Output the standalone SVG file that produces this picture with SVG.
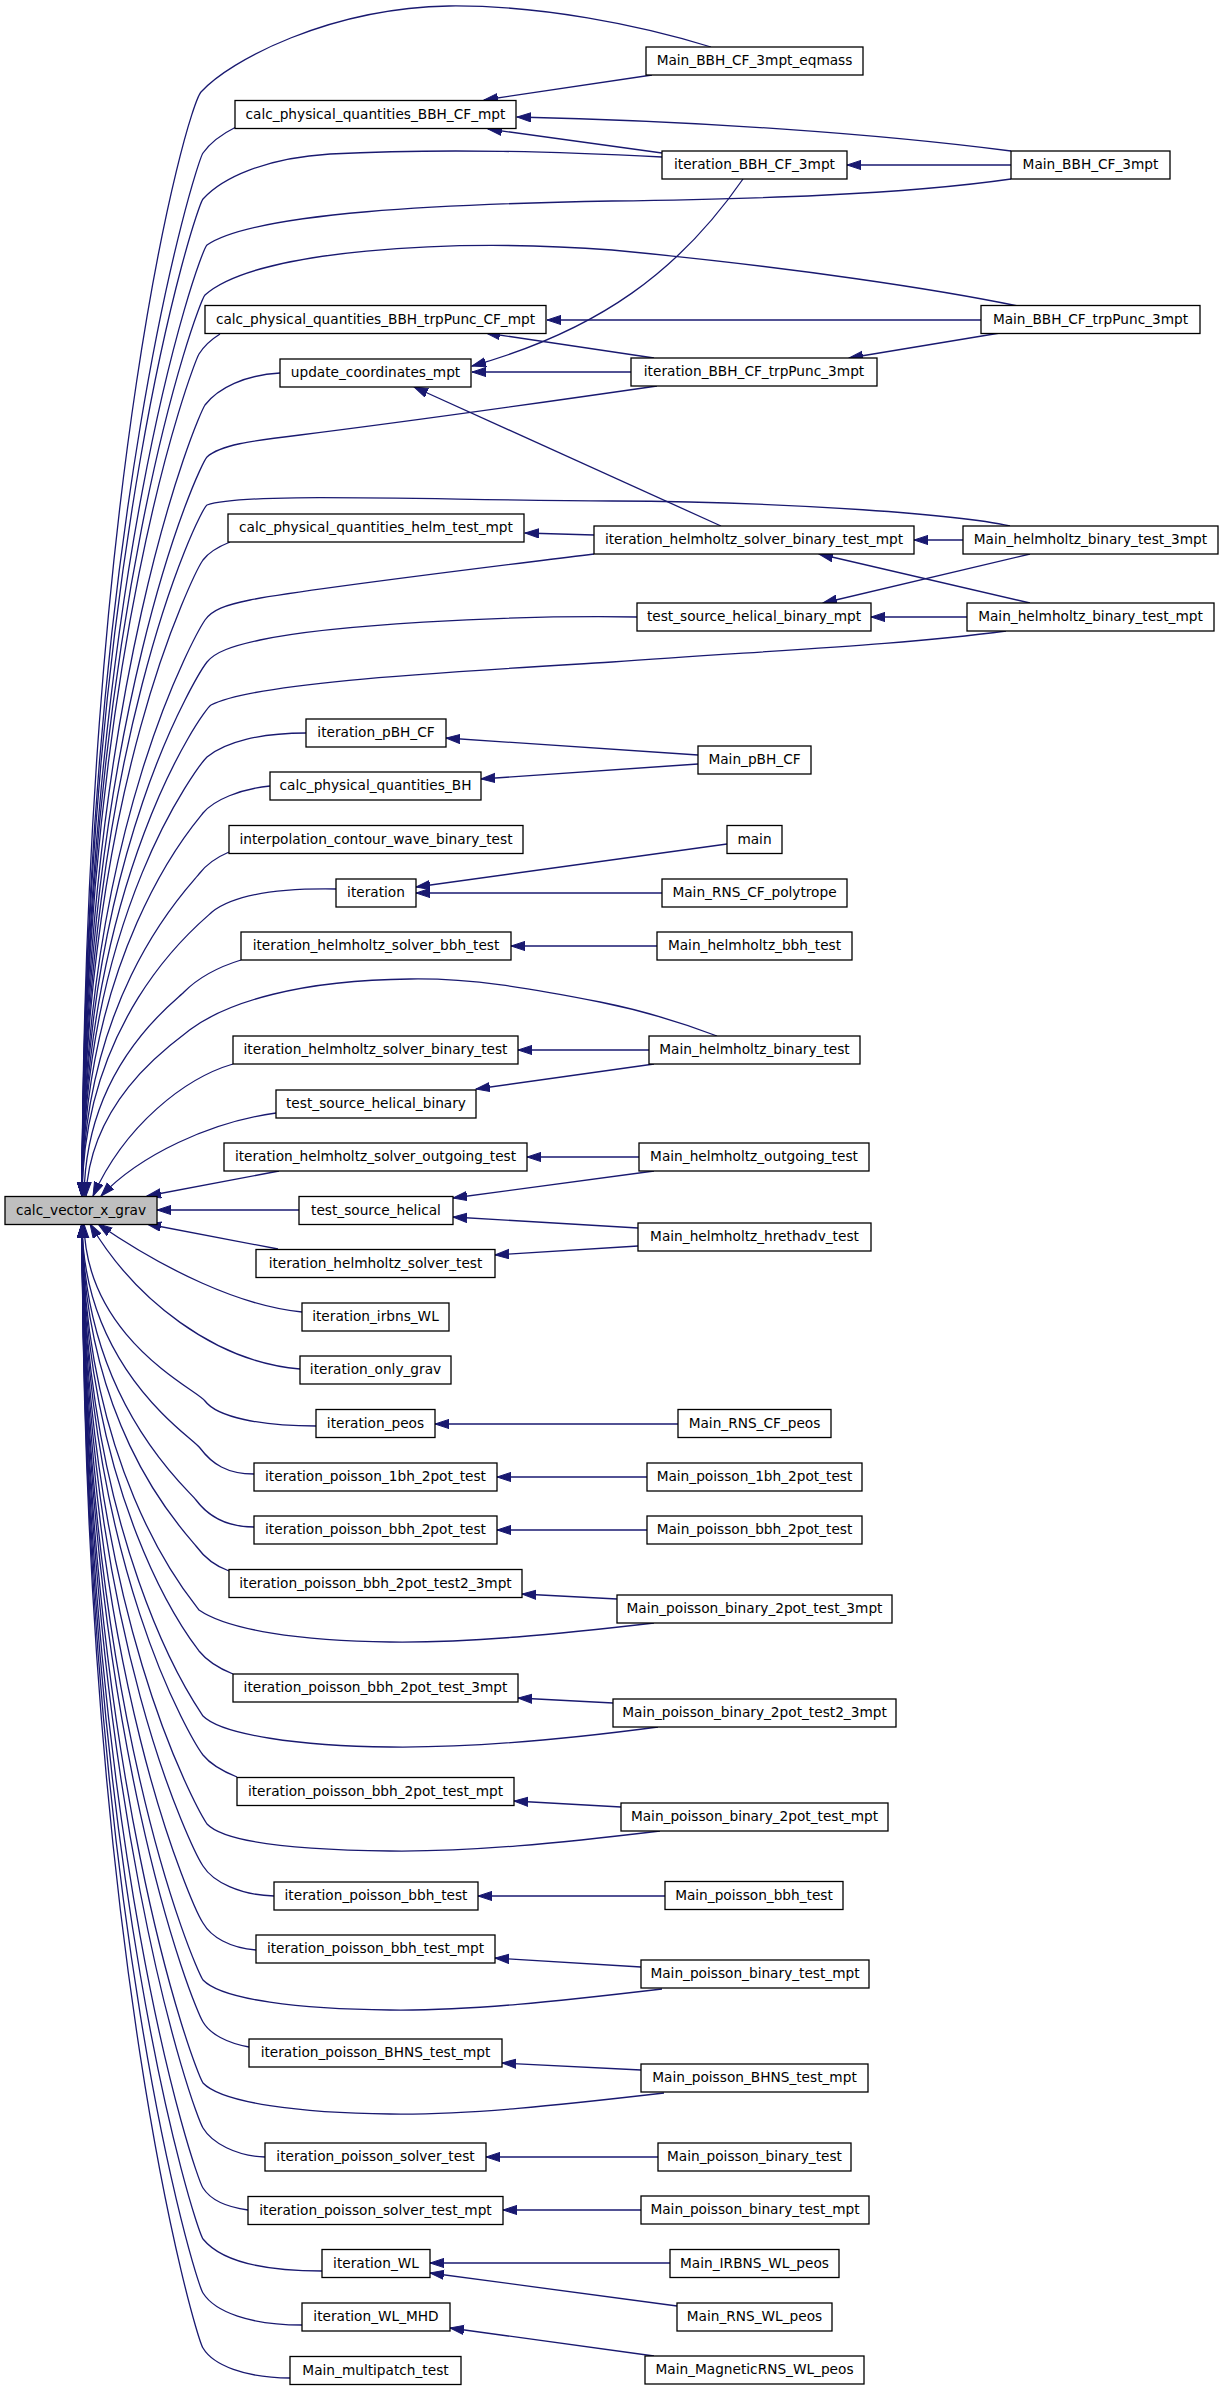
<svg xmlns="http://www.w3.org/2000/svg" width="1224" height="2390" viewBox="0 0 1224 2390">
<defs>
<marker id="a" markerUnits="userSpaceOnUse" markerWidth="16" markerHeight="12" refX="14" refY="5" orient="auto">
<path d="M0,0.4 L14,5 L0,9.6 z" fill="#191970" stroke="#191970" stroke-width="1"/>
</marker>
<style>
.n rect{fill:#fff;stroke:#000;stroke-width:1.3}
.n text{font-family:"DejaVu Sans","Liberation Sans",sans-serif;font-size:13.7px;text-anchor:middle;fill:#000}
#c rect{fill:#bfbfbf}
.e path{fill:none;stroke:#191970;stroke-width:1.3;marker-end:url(#a)}
</style>
</defs>
<rect width="1224" height="2390" fill="#fff"/>
<g class="e" id="edges">
<!-- from C up -->
<path d="M711,47 C640,25 540,5 449,6 C330,8 230,60 201,92 C186,110 84,478 82,1196"/>
<path d="M236,127 C222,134 210,143 203,153 C196,163 84,518 82,1196"/>
<path d="M662,157 C560,152 450,148 330,154 C265,158 222,178 203,199 C196,207 84,548 82,1196"/>
<path d="M1011,179 C900,195 750,199 612,201 C450,204 255,212 207,245 C199,252 84,578 82,1196"/>
<path d="M1018,306 C940,290 800,268 612,250 C450,238 255,250 205,295 C198,302 84,610 82,1196"/>
<path d="M220,334 C212,339 204,346 199,354 C193,364 84,649 82,1196"/>
<path d="M280,373 C245,375 218,388 205,405 C198,415 84,682 82,1196"/>
<path d="M657,386 C560,400 420,420 300,435 C250,441 220,445 207,457 C199,465 84,716 82,1196"/>
<path d="M1010,526 C960,515 800,502 612,501 C420,500 245,492 207,505 C199,510 84,747 82,1196"/>
<path d="M230,542 C220,546 209,552 203,560 C196,570 84,783 82,1196"/>
<path d="M594,554 C450,572 300,590 250,600 C225,605 212,610 205,620 C199,629 84,822 82,1196"/>
<path d="M637,617 C500,615 330,625 260,640 C232,646 215,652 207,662 C200,671 84,849 82,1196"/>
<path d="M1006,631 C900,645 780,650 612,662 C450,672 255,682 211,705 C203,710 84,877 82,1196"/>
<path d="M306,733 C260,733 225,742 207,757 C199,765 84,911 82,1196"/>
<path d="M270,786 C240,789 214,800 203,813 C196,822 84,947 82,1196"/>
<path d="M229,852 C215,858 205,866 199,874 C193,883 84,987 82,1196"/>
<path d="M336,889 C275,888 232,896 212,912 C204,920 84,1011 82,1196"/>
<path d="M241,960 C215,968 196,980 184,992 C176,1001 86,1063 84,1196"/>
<path d="M717,1036 C680,1022 640,1010 600,1002 C530,988 470,978 410,979 C300,980 228,1002 191,1029 C170,1045 90,1100 86,1196"/>
<path d="M233,1064 C185,1078 125,1125 93,1196"/>
<path d="M276,1113 C210,1122 140,1155 101,1196"/>
<path d="M279,1171 L147,1196"/>
<path d="M299,1210 L157,1210"/>
<!-- from C down -->
<path d="M278,1249 L147,1224"/>
<path d="M302,1312 C240,1306 165,1270 98,1224"/>
<path d="M300,1369 C215,1362 135,1300 90,1224"/>
<path d="M316,1426 C260,1426 217,1417 205,1401 C196,1389 86,1339 84,1224"/>
<path d="M254,1474 C227,1474 212,1464 200,1448 C191,1436 84,1370 82,1224"/>
<path d="M254,1527 C225,1527 208,1516 196,1500 C187,1488 84,1403 82,1224"/>
<path d="M229,1571 C215,1566 204,1557 196,1546 C187,1534 84,1433 82,1224"/>
<path d="M654,1623 C560,1634 470,1643 390,1642 C300,1641 228,1630 199,1610 C190,1598 84,1475 82,1224"/>
<path d="M233,1674 C218,1668 207,1661 199,1651 C190,1639 84,1502 82,1224"/>
<path d="M658,1727 C560,1740 470,1748 390,1747 C300,1746 222,1735 203,1716 C195,1704 84,1544 82,1224"/>
<path d="M237,1777 C222,1771 211,1765 203,1755 C194,1743 84,1569 82,1224"/>
<path d="M660,1831 C560,1843 470,1852 390,1851 C300,1850 225,1843 207,1824 C199,1812 84,1614 82,1224"/>
<path d="M274,1896 C240,1895 213,1882 203,1866 C195,1854 84,1641 82,1224"/>
<path d="M256,1950 C230,1948 211,1937 203,1923 C195,1911 84,1678 82,1224"/>
<path d="M662,1989 C560,2001 470,2011 390,2010 C300,2009 222,2000 203,1980 C195,1968 84,1715 82,1224"/>
<path d="M249,2047 C227,2043 210,2034 203,2022 C195,2010 84,1743 82,1224"/>
<path d="M664,2093 C560,2105 470,2115 390,2114 C300,2113 222,2103 203,2083 C195,2071 84,1782 82,1224"/>
<path d="M265,2157 C236,2156 212,2143 203,2128 C195,2116 84,1812 82,1224"/>
<path d="M248,2210 C226,2207 210,2199 203,2188 C195,2176 84,1851 82,1224"/>
<path d="M322,2271 C260,2271 220,2260 203,2239 C195,2227 84,1884 82,1224"/>
<path d="M302,2325 C250,2325 215,2312 203,2293 C195,2281 84,1919 82,1224"/>
<path d="M290,2378 C245,2378 213,2365 203,2348 C195,2336 84,1955 82,1224"/>
<!-- between outer ranks -->
<path d="M652,75 L484,100"/>
<path d="M1011,151 C880,134 700,121 517,117"/>
<path d="M662,153 L488,129"/>
<path d="M1011,165 L847,165"/>
<path d="M743,179 C680,270 600,330 472,366"/>
<path d="M631,372 L472,372"/>
<path d="M721,526 L414,387"/>
<path d="M981,320 L547,320"/>
<path d="M654,358 L486,333"/>
<path d="M1000,333 L849,358"/>
<path d="M594,535 L525,533"/>
<path d="M963,540 L914,540"/>
<path d="M1030,603 L819,554"/>
<path d="M1030,554 L823,603"/>
<path d="M967,617 L871,617"/>
<path d="M698,755 L446,738"/>
<path d="M698,764 L481,779"/>
<path d="M727,844 L416,887"/>
<path d="M662,893 L416,893"/>
<path d="M657,946 L511,946"/>
<path d="M649,1050 L518,1050"/>
<path d="M654,1064 L476,1089"/>
<path d="M639,1157 L527,1157"/>
<path d="M654,1171 L453,1198"/>
<path d="M638,1228 L453,1217"/>
<path d="M638,1246 L495,1255"/>
<path d="M678,1424 L435,1424"/>
<path d="M647,1477 L497,1477"/>
<path d="M647,1530 L497,1530"/>
<path d="M617,1599 L522,1594"/>
<path d="M613,1703 L518,1698"/>
<path d="M621,1807 L514,1801"/>
<path d="M665,1896 L478,1896"/>
<path d="M641,1967 L495,1958"/>
<path d="M641,2070 L502,2063"/>
<path d="M658,2157 L486,2157"/>
<path d="M641,2210 L503,2210"/>
<path d="M670,2263 L430,2263"/>
<path d="M677,2306 L430,2273"/>
<path d="M654,2356 L450,2328"/>
</g>
<g class="n" id="c"><rect x="5" y="1196.5" width="152" height="28"/><text x="81" y="1214.5">calc_vector_x_grav</text></g>
<g class="n" id="n1"><rect x="235" y="100.5" width="281" height="28"/><text x="375.5" y="118.5">calc_physical_quantities_BBH_CF_mpt</text></g>
<g class="n" id="n2"><rect x="205" y="305.5" width="341" height="28"/><text x="375.5" y="323.5">calc_physical_quantities_BBH_trpPunc_CF_mpt</text></g>
<g class="n" id="n3"><rect x="280" y="359" width="191" height="28"/><text x="375.5" y="377">update_coordinates_mpt</text></g>
<g class="n" id="n4"><rect x="228" y="514" width="296" height="28"/><text x="376" y="532">calc_physical_quantities_helm_test_mpt</text></g>
<g class="n" id="n5"><rect x="306" y="719" width="140" height="28"/><text x="376" y="737">iteration_pBH_CF</text></g>
<g class="n" id="n6"><rect x="270" y="772" width="211" height="28"/><text x="375.5" y="790">calc_physical_quantities_BH</text></g>
<g class="n" id="n7"><rect x="229" y="825.5" width="294" height="28"/><text x="376" y="843.5">interpolation_contour_wave_binary_test</text></g>
<g class="n" id="n8"><rect x="336" y="879" width="80" height="28"/><text x="376" y="897">iteration</text></g>
<g class="n" id="n9"><rect x="241" y="932" width="270" height="28"/><text x="376" y="950">iteration_helmholtz_solver_bbh_test</text></g>
<g class="n" id="n10"><rect x="233" y="1036" width="285" height="28"/><text x="375.5" y="1054">iteration_helmholtz_solver_binary_test</text></g>
<g class="n" id="n11"><rect x="276" y="1090" width="200" height="28"/><text x="376" y="1108">test_source_helical_binary</text></g>
<g class="n" id="n12"><rect x="224" y="1143" width="303" height="28"/><text x="375.5" y="1161">iteration_helmholtz_solver_outgoing_test</text></g>
<g class="n" id="n13"><rect x="299" y="1196.5" width="154" height="28"/><text x="376" y="1214.5">test_source_helical</text></g>
<g class="n" id="n14"><rect x="256" y="1249.5" width="239" height="28"/><text x="375.5" y="1267.5">iteration_helmholtz_solver_test</text></g>
<g class="n" id="n15"><rect x="302" y="1303" width="147" height="28"/><text x="375.5" y="1321">iteration_irbns_WL</text></g>
<g class="n" id="n16"><rect x="300" y="1356" width="151" height="28"/><text x="375.5" y="1374">iteration_only_grav</text></g>
<g class="n" id="n17"><rect x="316" y="1409.5" width="119" height="28"/><text x="375.5" y="1427.5">iteration_peos</text></g>
<g class="n" id="n18"><rect x="254" y="1463" width="243" height="28"/><text x="375.5" y="1481">iteration_poisson_1bh_2pot_test</text></g>
<g class="n" id="n19"><rect x="254" y="1516" width="243" height="28"/><text x="375.5" y="1534">iteration_poisson_bbh_2pot_test</text></g>
<g class="n" id="n20"><rect x="229" y="1569.5" width="293" height="28"/><text x="375.5" y="1587.5">iteration_poisson_bbh_2pot_test2_3mpt</text></g>
<g class="n" id="n21"><rect x="233" y="1674" width="285" height="28"/><text x="375.5" y="1692">iteration_poisson_bbh_2pot_test_3mpt</text></g>
<g class="n" id="n22"><rect x="237" y="1777.5" width="277" height="28"/><text x="375.5" y="1795.5">iteration_poisson_bbh_2pot_test_mpt</text></g>
<g class="n" id="n23"><rect x="274" y="1882" width="204" height="28"/><text x="376" y="1900">iteration_poisson_bbh_test</text></g>
<g class="n" id="n24"><rect x="256" y="1935" width="239" height="28"/><text x="375.5" y="1953">iteration_poisson_bbh_test_mpt</text></g>
<g class="n" id="n25"><rect x="249" y="2039" width="253" height="28"/><text x="375.5" y="2057">iteration_poisson_BHNS_test_mpt</text></g>
<g class="n" id="n26"><rect x="265" y="2143" width="221" height="28"/><text x="375.5" y="2161">iteration_poisson_solver_test</text></g>
<g class="n" id="n27"><rect x="248" y="2196.5" width="255" height="28"/><text x="375.5" y="2214.5">iteration_poisson_solver_test_mpt</text></g>
<g class="n" id="n28"><rect x="322" y="2249.5" width="108" height="28"/><text x="376" y="2267.5">iteration_WL</text></g>
<g class="n" id="n29"><rect x="302" y="2303" width="148" height="28"/><text x="376" y="2321">iteration_WL_MHD</text></g>
<g class="n" id="n30"><rect x="290" y="2356.5" width="171" height="28"/><text x="375.5" y="2374.5">Main_multipatch_test</text></g>
<g class="n" id="m1"><rect x="646" y="47" width="217" height="28"/><text x="754.5" y="65">Main_BBH_CF_3mpt_eqmass</text></g>
<g class="n" id="m2"><rect x="662" y="151" width="185" height="28"/><text x="754.5" y="169">iteration_BBH_CF_3mpt</text></g>
<g class="n" id="m3"><rect x="631" y="358" width="246" height="28"/><text x="754" y="376">iteration_BBH_CF_trpPunc_3mpt</text></g>
<g class="n" id="m4"><rect x="594" y="526" width="320" height="28"/><text x="754" y="544">iteration_helmholtz_solver_binary_test_mpt</text></g>
<g class="n" id="m5"><rect x="637" y="603" width="234" height="28"/><text x="754" y="621">test_source_helical_binary_mpt</text></g>
<g class="n" id="m6"><rect x="698" y="746" width="113" height="28"/><text x="754.5" y="764">Main_pBH_CF</text></g>
<g class="n" id="m7"><rect x="727" y="825.5" width="55" height="28"/><text x="754.5" y="843.5">main</text></g>
<g class="n" id="m8"><rect x="662" y="879" width="185" height="28"/><text x="754.5" y="897">Main_RNS_CF_polytrope</text></g>
<g class="n" id="m9"><rect x="657" y="932" width="195" height="28"/><text x="754.5" y="950">Main_helmholtz_bbh_test</text></g>
<g class="n" id="m10"><rect x="649" y="1036" width="211" height="28"/><text x="754.5" y="1054">Main_helmholtz_binary_test</text></g>
<g class="n" id="m11"><rect x="639" y="1143" width="230" height="28"/><text x="754" y="1161">Main_helmholtz_outgoing_test</text></g>
<g class="n" id="m12"><rect x="638" y="1223" width="233" height="28"/><text x="754.5" y="1241">Main_helmholtz_hrethadv_test</text></g>
<g class="n" id="m13"><rect x="678" y="1409.5" width="153" height="28"/><text x="754.5" y="1427.5">Main_RNS_CF_peos</text></g>
<g class="n" id="m14"><rect x="647" y="1463" width="215" height="28"/><text x="754.5" y="1481">Main_poisson_1bh_2pot_test</text></g>
<g class="n" id="m15"><rect x="647" y="1516" width="215" height="28"/><text x="754.5" y="1534">Main_poisson_bbh_2pot_test</text></g>
<g class="n" id="m16"><rect x="617" y="1595" width="275" height="28"/><text x="754.5" y="1613">Main_poisson_binary_2pot_test_3mpt</text></g>
<g class="n" id="m17"><rect x="613" y="1699" width="283" height="28"/><text x="754.5" y="1717">Main_poisson_binary_2pot_test2_3mpt</text></g>
<g class="n" id="m18"><rect x="621" y="1803" width="267" height="28"/><text x="754.5" y="1821">Main_poisson_binary_2pot_test_mpt</text></g>
<g class="n" id="m19"><rect x="665" y="1881.5" width="178" height="28"/><text x="754" y="1899.5">Main_poisson_bbh_test</text></g>
<g class="n" id="m20"><rect x="641" y="1960" width="228" height="28"/><text x="755" y="1978">Main_poisson_binary_test_mpt</text></g>
<g class="n" id="m21"><rect x="641" y="2064" width="227" height="28"/><text x="754.5" y="2082">Main_poisson_BHNS_test_mpt</text></g>
<g class="n" id="m22"><rect x="658" y="2143" width="193" height="28"/><text x="754.5" y="2161">Main_poisson_binary_test</text></g>
<g class="n" id="m23"><rect x="641" y="2196" width="228" height="28"/><text x="755" y="2214">Main_poisson_binary_test_mpt</text></g>
<g class="n" id="m24"><rect x="670" y="2249.5" width="169" height="28"/><text x="754.5" y="2267.5">Main_IRBNS_WL_peos</text></g>
<g class="n" id="m25"><rect x="677" y="2303" width="155" height="28"/><text x="754.5" y="2321">Main_RNS_WL_peos</text></g>
<g class="n" id="m26"><rect x="645" y="2356" width="219" height="28"/><text x="754.5" y="2374">Main_MagneticRNS_WL_peos</text></g>
<g class="n" id="r1"><rect x="1011" y="151" width="159" height="28"/><text x="1090.5" y="169">Main_BBH_CF_3mpt</text></g>
<g class="n" id="r2"><rect x="981" y="305.5" width="219" height="28"/><text x="1090.5" y="323.5">Main_BBH_CF_trpPunc_3mpt</text></g>
<g class="n" id="r3"><rect x="963" y="526" width="255" height="28"/><text x="1090.5" y="544">Main_helmholtz_binary_test_3mpt</text></g>
<g class="n" id="r4"><rect x="967" y="603" width="247" height="28"/><text x="1090.5" y="621">Main_helmholtz_binary_test_mpt</text></g>
</svg>
